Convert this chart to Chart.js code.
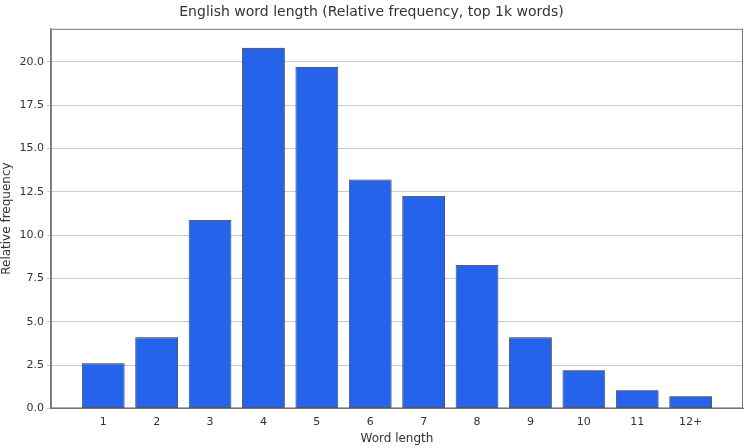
<!DOCTYPE html>
<html>
<head>
<meta charset="utf-8">
<script src="https://cdn.jsdelivr.net/npm/chart.js@4"></script>
<style>
  html, body { margin: 0; padding: 0; background: #ffffff; }
  #wrap { width: 750px; height: 448px; }
</style>
</head>
<body>
<div id="wrap"><canvas id="chart"></canvas></div>
<script>
var wordLengths = ["1", "2", "3", "4", "5", "6", "7", "8", "9", "10", "11", "12+"];
var relFrequency = [2.6, 4.1, 10.87, 20.8, 19.7, 13.2, 12.25, 8.27, 4.1, 2.2, 1.05, 0.7];

var points = relFrequency.map(function(v, i) { return { x: i, y: v }; });

// frame around the plot area, like the reference
var frame = {
    id: 'frame',
    afterDraw: function(chart) {
        var a = chart.chartArea, c = chart.ctx;
        c.save();
        c.strokeStyle = '#777777';
        c.lineWidth = 1;
        c.strokeRect(a.left + 0.5, a.top + 0.5, a.right - a.left - 1, a.bottom - a.top - 1);
        c.restore();
    }
};

new Chart(document.getElementById('chart'), {
    type: 'bar',
    data: {
        datasets: [{
            data: points,
            backgroundColor: '#2563eb',
            borderColor: '#2a2a2a',
            borderWidth: 0.8,
            borderSkipped: false,
            categoryPercentage: 1.0,
            barPercentage: 0.8
        }]
    },
    options: {
        responsive: true,
        maintainAspectRatio: false,
        animation: false,
        layout: { padding: { left: 0, right: 7, top: 0, bottom: 0 } },
        plugins: {
            legend: { display: false },
            title: {
                display: true,
                text: 'English word length (Relative frequency, top 1k words)',
                color: '#333333',
                font: { family: 'DejaVu Sans', size: 14, weight: 'normal' },
                padding: { top: 4, bottom: 8 }
            },
            tooltip: { enabled: false }
        },
        scales: {
            x: {
                type: 'linear',
                offset: false,
                min: -0.98,
                max: 11.98,
                afterBuildTicks: function(axis) {
                    axis.ticks = wordLengths.map(function(l, i) { return { value: i }; });
                },
                grid: { display: false, drawTicks: true, tickLength: 4 },
                border: { color: '#777777' },
                ticks: {
                    color: '#333333', font: { family: 'DejaVu Sans', size: 11 },
                    callback: function(v) { return wordLengths[v]; }
                },
                title: { display: true, text: 'Word length', color: '#333333',
                    font: { family: 'DejaVu Sans', size: 12 }, padding: { top: 0, bottom: 2 } }
            },
            y: {
                min: 0,
                max: 21.9,
                afterBuildTicks: function(axis) {
                    var t = [];
                    for (var v = 0; v <= 20; v += 2.5) t.push({ value: v });
                    axis.ticks = t;
                },
                grid: { color: '#cccccc', drawTicks: true, tickLength: 4 },
                border: { color: '#777777' },
                ticks: {
                    color: '#333333',
                    font: { family: 'DejaVu Sans', size: 11 },
                    callback: function(v) { return Number(v).toFixed(1); }
                },
                title: { display: true, text: 'Relative frequency', color: '#333333',
                    font: { family: 'DejaVu Sans', size: 12 }, padding: { top: 0, bottom: 2 } }
            }
        }
    },
    plugins: [frame]
});
</script>
</body>
</html>
